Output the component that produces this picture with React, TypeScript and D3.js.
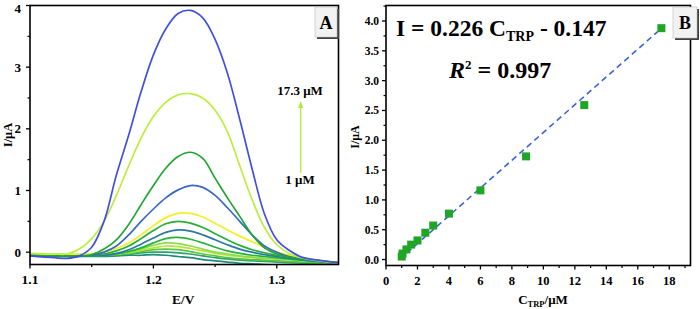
import React from "react";
import * as d3 from "d3";

// ---------- Panel A data (DPV curves) ----------
const potentials = [1.10, 1.12, 1.13, 1.14, 1.15, 1.16, 1.17, 1.18, 1.19, 1.20, 1.21, 1.22, 1.23, 1.24, 1.25, 1.26, 1.27, 1.28, 1.29, 1.30, 1.31, 1.32, 1.33, 1.35];

const curveColors = ["#1e8a78", "#2aa46a", "#5cc440", "#b6e63c", "#8fdc4a", "#22b43a", "#2a78a8", "#28ae34", "#f0f028", "#3868c8", "#20a632", "#bcee3e", "#4050e4"];

const curve13 = [-0.06, -0.07, -0.07, -0.07, -0.07, -0.07, -0.06, -0.05, -0.05, -0.04, -0.05, -0.07, -0.09, -0.12, -0.14, -0.16, -0.18, -0.19, -0.2, -0.21, -0.22, -0.22, -0.23, -0.24];
const curve12 = [-0.05, -0.06, -0.06, -0.06, -0.06, -0.06, -0.05, -0.03, -0.01, 0.0, 0.0, -0.01, -0.03, -0.06, -0.09, -0.11, -0.13, -0.14, -0.15, -0.16, -0.17, -0.18, -0.19, -0.2];
const curve11 = [-0.04, -0.05, -0.05, -0.05, -0.05, -0.05, -0.04, -0.02, 0.01, 0.04, 0.05, 0.04, 0.01, -0.03, -0.06, -0.09, -0.11, -0.12, -0.13, -0.14, -0.15, -0.16, -0.17, -0.19];
const curve10 = [-0.03, -0.04, -0.04, -0.04, -0.04, -0.04, -0.03, -0.01, 0.03, 0.07, 0.1, 0.09, 0.06, 0.02, -0.02, -0.05, -0.07, -0.09, -0.1, -0.11, -0.12, -0.13, -0.14, -0.17];
const curve9 = [-0.03, -0.04, -0.04, -0.04, -0.04, -0.04, -0.03, 0.0, 0.05, 0.11, 0.15, 0.14, 0.1, 0.05, 0.0, -0.03, -0.06, -0.08, -0.1, -0.11, -0.12, -0.13, -0.15, -0.18];
const curve8 = [-0.04, -0.05, -0.05, -0.05, -0.05, -0.05, -0.03, 0.01, 0.07, 0.15, 0.22, 0.24, 0.21, 0.15, 0.08, 0.02, -0.02, -0.05, -0.07, -0.09, -0.11, -0.13, -0.15, -0.18];
const curve7 = [-0.05, -0.05, -0.05, -0.05, -0.05, -0.05, -0.02, 0.04, 0.13, 0.23, 0.32, 0.36, 0.34, 0.28, 0.2, 0.12, 0.05, 0.0, -0.04, -0.07, -0.1, -0.12, -0.14, -0.18];
const curve6 = [-0.04, -0.05, -0.05, -0.05, -0.05, -0.03, 0.02, 0.1, 0.22, 0.35, 0.46, 0.5, 0.47, 0.4, 0.3, 0.2, 0.11, 0.04, -0.01, -0.05, -0.08, -0.11, -0.13, -0.17];
const curve5 = [-0.03, -0.04, -0.04, -0.04, -0.03, 0.0, 0.06, 0.15, 0.28, 0.43, 0.56, 0.63, 0.63, 0.57, 0.47, 0.36, 0.26, 0.17, 0.08, 0.0, -0.05, -0.09, -0.12, -0.17];
const curve4 = [-0.05, -0.06, -0.06, -0.07, -0.05, 0.0, 0.1, 0.28, 0.5, 0.7, 0.88, 1.01, 1.08, 1.05, 0.92, 0.72, 0.5, 0.28, 0.1, 0.0, -0.07, -0.11, -0.14, -0.18];
const curve3 = [-0.05, -0.06, -0.06, -0.06, -0.04, 0.05, 0.2, 0.45, 0.77, 1.08, 1.36, 1.55, 1.62, 1.52, 1.2, 0.88, 0.58, 0.28, 0.07, -0.03, -0.08, -0.11, -0.13, -0.17];
const curve2 = [-0.02, -0.03, -0.03, 0.05, 0.22, 0.5, 0.92, 1.4, 1.85, 2.2, 2.43, 2.55, 2.57, 2.5, 2.3, 1.95, 1.4, 0.85, 0.4, 0.12, -0.02, -0.09, -0.13, -0.18];
const curve1 = [-0.06, -0.09, -0.1, -0.06, 0.08, 0.5, 1.25, 1.9, 2.6, 3.2, 3.62, 3.87, 3.92, 3.8, 3.45, 2.9, 2.15, 1.35, 0.62, 0.2, 0.03, -0.08, -0.12, -0.17];

const curvesA = [curve13, curve12, curve11, curve10, curve9, curve8, curve7, curve6, curve5, curve4, curve3, curve2, curve1];

const xTicksA = [1.1, 1.2, 1.3];
const yTicksA = [0, 1, 2, 3, 4];

// ---------- Panel B data (calibration) ----------
const concentrations = [1.0, 1.05, 1.3, 1.6, 2.0, 2.5, 3.0, 4.0, 6.0, 8.9, 12.6, 17.5];
const currents = [0.05, 0.1, 0.17, 0.25, 0.32, 0.45, 0.57, 0.77, 1.16, 1.73, 2.59, 3.88];
const fitX = [0.85, 17.3];
const fitY = [0.0, 3.83];
const xTicksB = [0, 2, 4, 6, 8, 10, 12, 14, 16, 18];
const yTicksB = [0.0, 0.5, 1.0, 1.5, 2.0, 2.5, 3.0, 3.5, 4.0];

const FONT = "'Liberation Serif', 'Times New Roman', Times, serif";

export default function App() {
  // Panel A scales
  const xA = d3.scaleLinear().domain([1.1, 1.35]).range([30, 338.5]);
  const yA = d3.scaleLinear().domain([-0.2, 4.0]).range([264.5, 5.5]);
  // Panel B scales
  const xB = d3.scaleLinear().domain([0, 19.35]).range([386, 690.5]);
  const yB = d3.scaleLinear().domain([-0.1, 4.26]).range([265.5, 5.5]);

  const lineA = d3
    .line<number>()
    .x((_, i) => xA(potentials[i]))
    .y((d) => yA(d))
    .curve(d3.curveCatmullRom.alpha(0.5));

  const fitPts: [number, number][] = fitX.map((x, i) => [xB(x), yB(fitY[i])]);

  const minorA_x = [1.15, 1.25];
  const minorA_y = [0.5, 1.5, 2.5, 3.5];
  const minorB_x = [1, 3, 5, 7, 9, 11, 13, 15, 17, 19];
  const minorB_y = d3.range(0.25, 4.26, 0.5);

  const [x0A, x1A] = xA.range();
  const [y0A, y1A] = yA.range();
  const [x0B, x1B] = xB.range();
  const [y0B, y1B] = yB.range();

  return (
    <svg
      width={700}
      height={309}
      style={{ position: "absolute", left: 0, top: 0, background: "#fff" }}
      fontFamily={FONT}
      fontWeight="bold"
    >
      <defs>
        <clipPath id="clipA">
          <rect x={x0A} y={y1A} width={x1A - x0A} height={y0A - y1A} />
        </clipPath>
      </defs>

      {/* ===== Panel A ===== */}
      <g clipPath="url(#clipA)">
        {curvesA.map((c, i) => (
          <path key={i} d={lineA(c) || ""} fill="none" stroke={curveColors[i]} strokeWidth={1.7} />
        ))}
      </g>
      <rect x={x0A} y={y1A} width={x1A - x0A} height={y0A - y1A} fill="none" stroke="#000" strokeWidth={1.6} />
      {xTicksA.map((t) => (
        <g key={t}>
          <line x1={xA(t)} x2={xA(t)} y1={y0A} y2={y0A + 4} stroke="#000" strokeWidth={1.3} />
          <text x={xA(t)} y={284} fontSize={13.5} textAnchor="middle">{t.toFixed(1)}</text>
        </g>
      ))}
      {minorA_x.map((t) => (
        <line key={t} x1={xA(t)} x2={xA(t)} y1={y0A} y2={y0A + 2.5} stroke="#000" strokeWidth={1.2} />
      ))}
      {yTicksA.map((t) => (
        <g key={t}>
          <line x1={x0A - 4} x2={x0A} y1={yA(t)} y2={yA(t)} stroke="#000" strokeWidth={1.3} />
          <text x={21} y={Math.max(yA(t) + 4.5, 12.5)} fontSize={13} textAnchor="end">{t}</text>
        </g>
      ))}
      {minorA_y.map((t) => (
        <line key={t} x1={x0A - 2.5} x2={x0A} y1={yA(t)} y2={yA(t)} stroke="#000" strokeWidth={1.2} />
      ))}
      <text x={(x0A + x1A) / 2 - 1} y={304} fontSize={13.5} textAnchor="middle">E/V</text>
      <text transform={`translate(12,135) rotate(-90)`} fontSize={12.5} textAnchor="middle">I/μA</text>

      {/* arrow */}
      <line x1={300.7} x2={300.7} y1={173} y2={106} stroke="#a8ee3a" strokeWidth={1.3} />
      <path d="M300.7,101 L298.2,108 L303.2,108 Z" fill="#a8ee3a" />
      <text x={300} y={95} fontSize={13} textAnchor="middle">17.3 μM</text>
      <text x={300} y={184} fontSize={13} textAnchor="middle">1 μM</text>

      {/* A label box */}
      <rect x={317} y={9} width={22} height={30} fill="#404040" />
      <rect x={315} y={7} width={22} height={30} fill="#f2f2f2" stroke="#bbb" strokeWidth={0.6} />
      <text x={326} y={29} fontSize={18} textAnchor="middle">A</text>

      {/* ===== Panel B ===== */}
      <path
        d={d3.line()(fitPts) || ""}
        fill="none"
        stroke="#3a63d6"
        strokeWidth={1.6}
        strokeDasharray="6,4"
      />
      {concentrations.map((c, i) => (
        <rect key={i} x={xB(c) - 4} y={yB(currents[i]) - 4} width={8} height={8} fill="#20a626" />
      ))}
      <rect x={x0B} y={y1B} width={x1B - x0B} height={y0B - y1B} fill="none" stroke="#000" strokeWidth={1.6} />
      {xTicksB.map((t) => (
        <g key={t}>
          <line x1={xB(t)} x2={xB(t)} y1={y0B} y2={y0B + 4} stroke="#000" strokeWidth={1.3} />
          <text x={xB(t)} y={284.5} fontSize={12.5} textAnchor="middle">{t}</text>
        </g>
      ))}
      {minorB_x.map((t) => (
        <line key={t} x1={xB(t)} x2={xB(t)} y1={y0B} y2={y0B + 2.5} stroke="#000" strokeWidth={1.2} />
      ))}
      {yTicksB.map((t) => (
        <g key={t}>
          <line x1={x0B - 4} x2={x0B} y1={yB(t)} y2={yB(t)} stroke="#000" strokeWidth={1.3} />
          <text x={379} y={yB(t) + 4} fontSize={11.5} textAnchor="end">{t.toFixed(1)}</text>
        </g>
      ))}
      {minorB_y.map((t) => (
        <line key={t} x1={x0B - 2.5} x2={x0B} y1={yB(t)} y2={yB(t)} stroke="#000" strokeWidth={1.2} />
      ))}
      <text x={543} y={304} fontSize={13} textAnchor="middle">
        C<tspan fontSize={8.5} dy={3}>TRP</tspan><tspan dy={-3}>/μM</tspan>
      </text>
      <text transform={`translate(359,137) rotate(-90)`} fontSize={12} textAnchor="middle">I/μA</text>

      {/* equation */}
      <text x={396} y={36} fontSize={23.5}>
        I = 0.226 C<tspan fontSize={14} dy={5}>TRP</tspan><tspan dy={-5}> - 0.147</tspan>
      </text>
      <text x={449} y={78} fontSize={24}>
        <tspan fontStyle="italic">R</tspan><tspan fontSize={13} dy={-9}>2</tspan><tspan dy={9}> = 0.997</tspan>
      </text>

      {/* B label box */}
      <rect x={675} y={9} width={24} height={31} fill="#404040" />
      <rect x={673} y={7} width={24} height={31} fill="#f2f2f2" stroke="#bbb" strokeWidth={0.6} />
      <text x={685} y={29} fontSize={18} textAnchor="middle">B</text>
    </svg>
  );
}
